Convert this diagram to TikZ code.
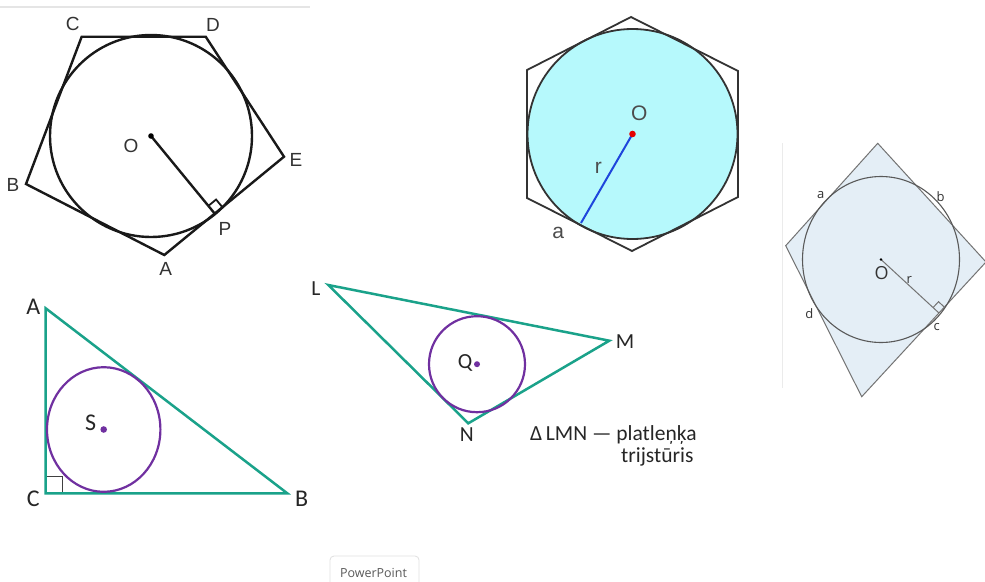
\documentclass[tikz,border=0pt]{standalone}
\usepackage{fontspec}
\setmainfont{Liberation Sans}
\newfontfamily\carlito{Carlito}
\newfontfamily\opensans{Open Sans}
\usetikzlibrary{calc}
\definecolor{tealline}{RGB}{26,162,138}
\definecolor{purp}{RGB}{112,48,160}
\definecolor{cyanfill}{RGB}{182,249,252}
\definecolor{sqfill}{RGB}{228,238,246}
\definecolor{sqgrey}{RGB}{115,115,115}
\definecolor{rblue}{RGB}{30,70,220}
\tikzset{
  pentline/.style={line width=2.4pt, black!90, line join=miter},
  pentlbl/.style={font=\fontsize{19}{19}\selectfont, text=black!80, inner sep=0pt},
  hexline/.style={line width=1.8pt, black!80},
  hexlbl/.style={font=\fontsize{21}{21}\selectfont, text=black!70, inner sep=0pt},
  quadline/.style={line width=1pt, sqgrey},
  sqlbl/.style={font=\opensans\fontsize{13}{13}\selectfont, text=black!80, inner sep=0pt},
  sqlblbig/.style={font=\opensans\fontsize{18}{18}\selectfont, text=black!80, inner sep=0pt},
  triline/.style={line width=2.5pt, tealline, line join=miter},
  incirc/.style={line width=2.2pt, purp},
  trilbl/.style={font=\carlito\fontsize{24}{24}\selectfont, text=black!85, inner sep=0pt},
  lmnlbl/.style={font=\carlito\fontsize{21.5}{21.5}\selectfont, text=black!85, inner sep=0pt},
}
\begin{document}
\begin{tikzpicture}[x=1pt,y=-1pt]
\useasboundingbox (0,0) rectangle (985,581);
\clip (0,0) rectangle (985,581);
\fill[white] (0,0) rectangle (985,581);

% ---------- top grey rule ----------
\coordinate (g1) at (0,7);
\coordinate (g2) at (310,7);
\draw[line width=1.2pt, black!10] (g1) -- (g2);

% ---------- pentagon ----------
\coordinate (pA) at (164.3,255);
\coordinate (pB) at (26,184);
\coordinate (pC) at (81.7,36.7);
\coordinate (pD) at (205.7,36.7);
\coordinate (pE) at (284,156.7);
\coordinate (pO) at (151,136);
\draw[pentline] (pA) -- (pB) -- (pC) -- (pD) -- (pE) -- cycle;
\draw[pentline] (pO) circle[radius=101];
\coordinate (pP) at ($(pA)!(pO)!(pE)$);
\draw[pentline] (pO) -- (pP);
\coordinate (pm1) at ($(pP)!10pt!(pO)$);
\coordinate (pm2) at ($(pP)!10pt!(pE)$);
\coordinate (pm3) at ($(pm1)+(pm2)-(pP)$);
\draw[line width=1.8pt, black!90] (pm1) -- (pm3) -- (pm2);
\fill[black] (pO) circle[radius=2.8];
\node[pentlbl] (lC) at (72.7,24) {C};
\node[pentlbl] (lD) at (213,25) {D};
\node[pentlbl] (lE) at (296,160) {E};
\node[pentlbl] (lB) at (13,185) {B};
\node[pentlbl] (lA) at (165.7,269) {A};
\node[pentlbl] (lP) at (225,229) {P};
\node[pentlbl] (lO) at (131,146) {O};

% ---------- hexagon ----------
\coordinate (hO) at (632.5,134);
\coordinate (h1) at (631,17);
\coordinate (h2) at (738,71);
\coordinate (h3) at (738,197);
\coordinate (h4) at (632,251);
\coordinate (h5) at (527,198);
\coordinate (h6) at (527,70);
\coordinate (ha) at (581,223);
\fill[cyanfill] (hO) circle[radius=105];
\draw[hexline] (h1) -- (h2) -- (h3) -- (h4) -- (h5) -- (h6) -- cycle;
\draw[hexline] (hO) circle[radius=105];
\draw[line width=2pt, rblue] (hO) -- (ha);
\fill[red!90!black] (hO) circle[radius=3.3];
\node[hexlbl] (hlO) at (639.3,113.3) {O};
\node[hexlbl] (hlr) at (598.3,168.3) {r};
\node[hexlbl] (hla) at (558.3,233.3) {a};

% ---------- tangential quadrilateral ----------
\coordinate (vline1) at (782.7,143);
\coordinate (vline2) at (782.7,388);
\draw[line width=1.2pt, black!8] (vline1) -- (vline2);
\coordinate (qT) at (877.7,143.3);
\coordinate (qL) at (785.7,245.7);
\coordinate (qB) at (861.7,396.7);
\coordinate (qR) at (986,262);
\coordinate (qO) at (881,259.5);
\filldraw[quadline, fill=sqfill] (qT) -- (qR) -- (qB) -- (qL) -- cycle;
\draw[line width=1.1pt, black!65] (qO) ellipse[x radius=78.5, y radius=83];
\coordinate (qc) at ($(qB)!(qO)!(qR)$);
\draw[quadline] (qO) -- (qc);
\coordinate (qm1) at ($(qc)!8pt!(qO)$);
\coordinate (qm2) at ($(qc)!8pt!(qR)$);
\coordinate (qm3) at ($(qm1)+(qm2)-(qc)$);
\draw[quadline] (qm1) -- (qm3) -- (qm2);
\fill[black] (qO) circle[radius=1.3];
\node[sqlbl] (qla) at (820.7,195) {a};
\node[sqlbl] (qlb) at (940.7,196.7) {b};
\node[sqlbl] (qlc) at (936.7,327.3) {c};
\node[sqlbl] (qld) at (809.3,314) {d};
\node[sqlblbig] (qlO) at (881.7,273.3) {O};
\node[sqlbl] (qlr) at (909.3,280) {r};

% ---------- right triangle ----------
\coordinate (tA) at (45.7,308.3);
\coordinate (tC) at (45.7,493.3);
\coordinate (tB) at (287.3,493.3);
\coordinate (tS) at (103.7,429.5);
\coordinate (tm1) at (45.7,476.6);
\coordinate (tm2) at (62.4,476.6);
\coordinate (tm3) at (62.4,493.3);
\draw[line width=1pt, black!75] (tm1) -- (tm2) -- (tm3);
\draw[triline] (tA) -- (tB) -- (tC) -- cycle;
\draw[incirc] (tS) ellipse[x radius=56.7, y radius=62.3];
\fill[purp] (tS) circle[radius=3.3];
\node[trilbl] (tlA) at (33.3,306.7) {A};
\node[trilbl] (tlC) at (33.3,498.3) {C};
\node[trilbl] (tlB) at (301.7,498.3) {B};
\node[trilbl] (tlS) at (90.7,422.7) {S};

% ---------- obtuse triangle LMN ----------
\coordinate (nL) at (328.3,285);
\coordinate (nM) at (609.3,340.7);
\coordinate (nN) at (468.3,423.3);
\coordinate (nQ) at (477,364.2);
\draw[triline] (nL) -- (nM) -- (nN) -- cycle;
\draw[incirc] (nQ) circle[radius=48];
\fill[purp] (nQ) circle[radius=3];
\node[lmnlbl] (nlL) at (316,288.3) {L};
\node[lmnlbl] (nlM) at (625,341.7) {M};
\node[lmnlbl] (nlN) at (466.7,435) {N};
\node[lmnlbl] (nlQ) at (465,363.3) {Q};
\node[lmnlbl, anchor=base west] (cap1) at (530,440) {Δ\,LMN — platleņķa};
\node[lmnlbl, anchor=base west] (cap2) at (621,462) {trijstūris};

% ---------- PowerPoint tab ----------
\coordinate (pp1) at (330,556);
\coordinate (pp2) at (419,595);
\filldraw[rounded corners=4pt, draw=black!12, fill=white, line width=0.8pt] (pp1) rectangle (pp2);
\node[font=\opensans\fontsize{12.5}{12.5}\selectfont, text=black!65, inner sep=0pt] (ppt) at (373.5,573) {PowerPoint};
\end{tikzpicture}
\end{document}
